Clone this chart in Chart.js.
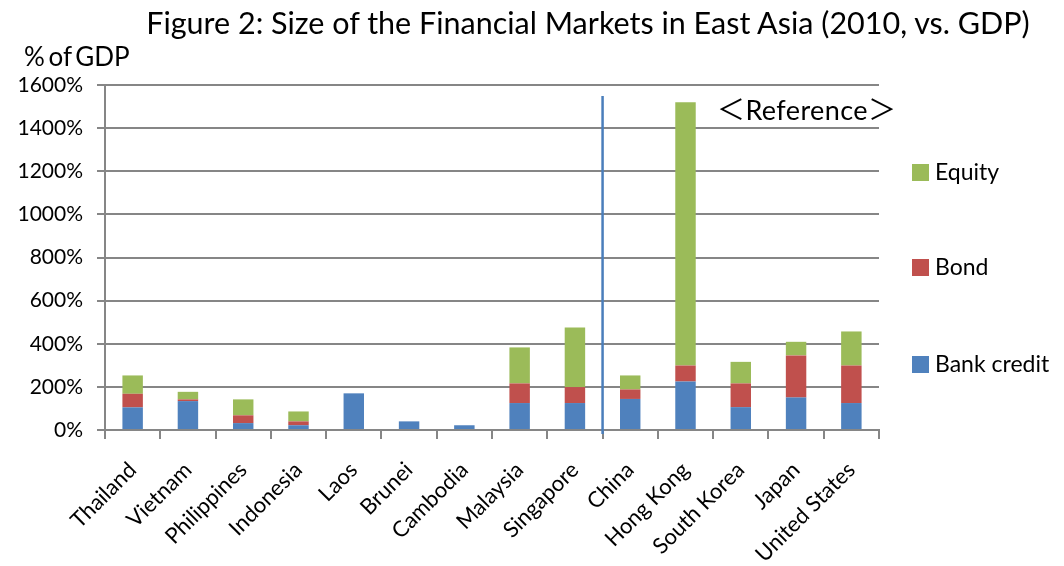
<!DOCTYPE html>
<html>
<head>
<meta charset="utf-8">
<script src="https://cdn.jsdelivr.net/npm/chart.js@4.4.1/dist/chart.umd.min.js"></script>
<style>
    body { margin: 0; background: #fff; font-family: Lato, "Noto Sans", sans-serif; }
    #wrap { position: relative; width: 1064px; height: 566px; }
    #title { position: absolute; left: 88px; width: 1000px; top: 4px; text-align: center; font-size: 30.5px; color: #000; white-space: nowrap; }
    #unit { position: absolute; left: 24px; top: 40px; font-size: 26px; word-spacing: -3px; }
    #note { position: absolute; left: 717px; top: 88px; font-size: 27px; white-space: nowrap; letter-spacing: 0.4px; }
    #note b { font-weight: normal; font-family: "Noto Sans CJK JP", sans-serif; font-size: 28px; }
    .leg { position: absolute; left: 912px; font-size: 23px; white-space: nowrap; }
    .leg span { display: inline-block; width: 17px; height: 17px; margin-right: 6px; vertical-align: -1px; }
</style>
</head>
<body>
<div id="wrap">
    <canvas id="marketChart" width="1064" height="566"></canvas>
    <div id="title">Figure 2: Size of the Financial Markets in East Asia (2010, vs. GDP)</div>
    <div id="unit">% of GDP</div>
    <div id="note"><b>＜</b>Reference<b>＞</b></div>
    <div class="leg" style="top:157px"><span style="background:#9BBB59"></span>Equity</div>
    <div class="leg" style="top:252px"><span style="background:#C0504D"></span>Bond</div>
    <div class="leg" style="top:349px"><span style="background:#4F81BD"></span>Bank credit</div>
</div>
<script>
    const countries = ['Thailand', 'Vietnam', 'Philippines', 'Indonesia', 'Laos', 'Brunei', 'Cambodia',
        'Malaysia', 'Singapore', 'China', 'Hong Kong', 'South Korea', 'Japan', 'United States'];
    const bankCredit = [105, 134, 32, 22, 170, 40, 22, 125, 125, 144, 225, 106, 151, 125];
    const bond = [63, 8, 36, 18, 0, 0, 0, 91, 74, 44, 74, 110, 195, 174];
    const equity = [85, 35, 74, 46, 0, 0, 0, 167, 276, 65, 1221, 100, 63, 158];
    const yTicks = [0, 200, 400, 600, 800, 1000, 1200, 1400, 1600];

    // separator between the ASEAN group and the reference economies
    const dividerPlugin = {
        id: 'divider',
        afterDatasetsDraw(chart) {
            const x = chart.scales.x;
            const ctx = chart.ctx;
            const px = (x.getPixelForValue(8) + x.getPixelForValue(9)) / 2;
            ctx.save();
            ctx.strokeStyle = '#4A7EBB';
            ctx.lineWidth = 2.5;
            ctx.beginPath();
            ctx.moveTo(px, chart.chartArea.top + 11);
            ctx.lineTo(px, chart.chartArea.bottom + 4);
            ctx.stroke();
            ctx.restore();
        }
    };

    const ctx = document.getElementById('marketChart').getContext('2d');
    new Chart(ctx, {
        type: 'bar',
        data: {
            labels: countries,
            datasets: [
                { label: 'Bank credit', data: bankCredit, backgroundColor: '#4F81BD' },
                { label: 'Bond', data: bond, backgroundColor: '#C0504D' },
                { label: 'Equity', data: equity, backgroundColor: '#9BBB59' }
            ]
        },
        options: {
            responsive: false,
            animation: false,
            categoryPercentage: 1,
            barPercentage: 0.37,
            layout: { padding: { top: 85, right: 185, left: 0, bottom: 0 } },
            plugins: {
                legend: { display: false },
                tooltip: { enabled: false }
            },
            scales: {
                x: {
                    stacked: true,
                    afterFit(axis) { axis.height = 136; },
                    border: { color: '#868686', width: 2 },
                    grid: { drawOnChartArea: false, color: '#868686', lineWidth: 2, tickLength: 9 },
                    ticks: {
                        color: '#000',
                        font: { family: 'Lato', size: 22 },
                        minRotation: 45,
                        maxRotation: 45,
                        padding: 18
                    }
                },
                y: {
                    stacked: true,
                    min: 0,
                    max: 1600,
                    afterBuildTicks(axis) { axis.ticks = yTicks.map(v => ({ value: v })); },
                    afterFit(axis) { axis.width = 105; },
                    border: { color: '#868686', width: 2 },
                    grid: { color: '#868686', lineWidth: 2, tickLength: 8 },
                    ticks: {
                        color: '#000',
                        font: { family: 'Lato', size: 21 },
                        padding: 14,
                        callback: v => v + '%'
                    }
                }
            }
        },
        plugins: [dividerPlugin]
    });
</script>
</body>
</html>
